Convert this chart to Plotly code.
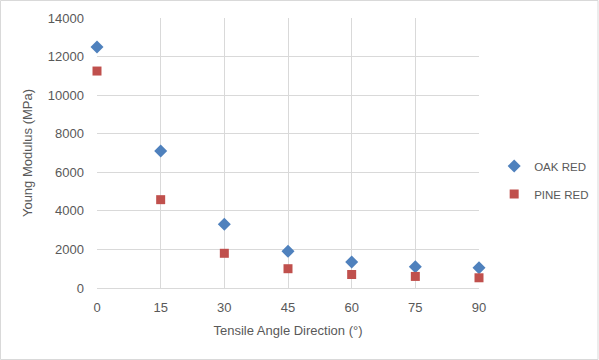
import plotly.graph_objects as go

angles = [0, 15, 30, 45, 60, 75, 90]
oak_red = [12500, 7100, 3300, 1900, 1350, 1100, 1050]
pine_red = [11250, 4580, 1800, 1000, 700, 600, 530]

FONT = "Liberation Sans"
GRAY = "#595959"

fig = go.Figure()
fig.add_trace(go.Scatter(x=angles, y=oak_red, mode="markers", name="OAK RED",
                         legendgroup="oak",
                         marker=dict(symbol="diamond", size=10, color="#4f81bd"),
                         cliponaxis=False))
fig.add_trace(go.Scatter(x=angles, y=pine_red, mode="markers", name="PINE RED",
                         legendgroup="pine",
                         marker=dict(symbol="square", size=9, color="#c0504d"),
                         cliponaxis=False))

fig.update_layout(
    width=599, height=360,
    margin=dict(l=97, r=120, t=18, b=72, autoexpand=False),
    paper_bgcolor="white", plot_bgcolor="white",
    font=dict(family=FONT, size=13, color=GRAY),
    showlegend=True,
    legend=dict(xref="container", yref="container", x=0.825, y=0.579,
                xanchor="left", yanchor="top", itemwidth=30,
                font=dict(size=11.5, color=GRAY), itemsizing="trace",
                tracegroupgap=9, bgcolor="rgba(0,0,0,0)"),
    xaxis=dict(range=[0, 90], tickmode="linear", tick0=0, dtick=15,
               showgrid=True, gridcolor="#d9d9d9", gridwidth=1,
               zeroline=False, showline=True, linecolor="#d9d9d9",
               ticks="", ticklabelstandoff=7,
               title=dict(text="Tensile Angle Direction (°)", standoff=12,
                          font=dict(size=13, color=GRAY))),
    yaxis=dict(range=[0, 14000], tickmode="linear", tick0=0, dtick=2000,
               tickformat="d",
               showgrid=True, gridcolor="#d9d9d9", gridwidth=1,
               zeroline=False, showline=False, ticks="", ticklabelstandoff=12,
               title=dict(text="Young Modulus (MPa)", standoff=12,
                          font=dict(size=13, color=GRAY))),
)
fig.add_shape(type="rect", xref="paper", yref="paper", x0=-96.5/382, y0=-71.5/270,
              x1=1+119/382, y1=1+17.5/270, line=dict(color="#d9d9d9", width=1))

fig.write_html("out.html", config={"displayModeBar": False},
               post_script="document.body.style.margin='0';")
